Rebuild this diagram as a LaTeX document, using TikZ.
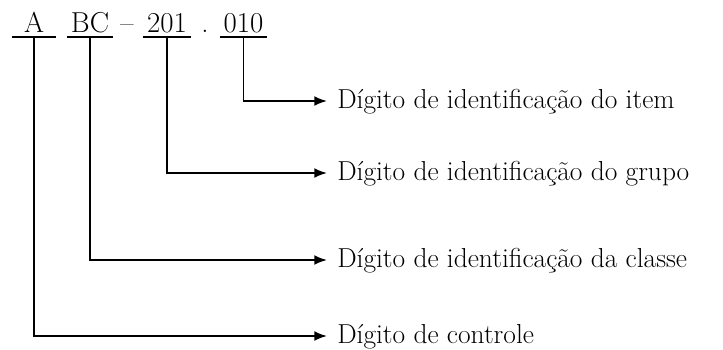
\documentclass[tikz,border=0pt]{standalone}
\usepackage{fontspec}
\usepackage{tikz}
\usetikzlibrary{arrows.meta, positioning}

\begin{document}
\begin{tikzpicture}[x=0.025cm, y=-0.025cm,
        part/.style={inner sep=0pt, text height=0.45cm, text depth=0.1cm, font=\fontsize{20.5}{24}\selectfont},
        legenda/.style={anchor=west, inner xsep=0.25cm, inner ysep=0pt, text height=0.475cm, text depth=0.125cm, font=\fontsize{19.5}{23}\selectfont},
        seta/.style={line width=1.3pt, -{Latex[length=9pt, width=7pt]}}]
        \useasboundingbox (0,0) rectangle (723,349);
        % codigo
        \node[part, anchor=south, minimum width=1.1cm] (A) at (34,37) {A};
        \node[part, anchor=south, minimum width=1.15cm] (BC) at (90,37) {BC};
        \node[part, anchor=south] (hifen) at (127,37) {--};
        \node[part, anchor=south, minimum width=1.2cm] (grupo) at (167,37) {201};
        \node[part, anchor=south] (ponto) at (205,37) {.};
        \node[part, anchor=south, minimum width=1.175cm] (item) at (243.5,37) {010};
        \foreach \p in {A, BC, grupo, item}
            \draw[line width=1.3pt] (\p.south west) -- (\p.south east);
        % legendas
        \node[legenda] (LItem) at (327,101) {Dígito de identificação do item};
        \node[legenda] (LGrupo) at (327,173) {Dígito de identificação do grupo};
        \node[legenda] (LClasse) at (327,260) {Dígito de identificação da classe};
        \node[legenda] (LControle) at (327,336) {Dígito de controle};
        \draw[seta] (item.south) |- (LItem.west);
        \draw[seta] (grupo.south) |- (LGrupo.west);
        \draw[seta] (BC.south) |- (LClasse.west);
        \draw[seta] (A.south) |- (LControle.west);
    \end{tikzpicture}
\end{document}
